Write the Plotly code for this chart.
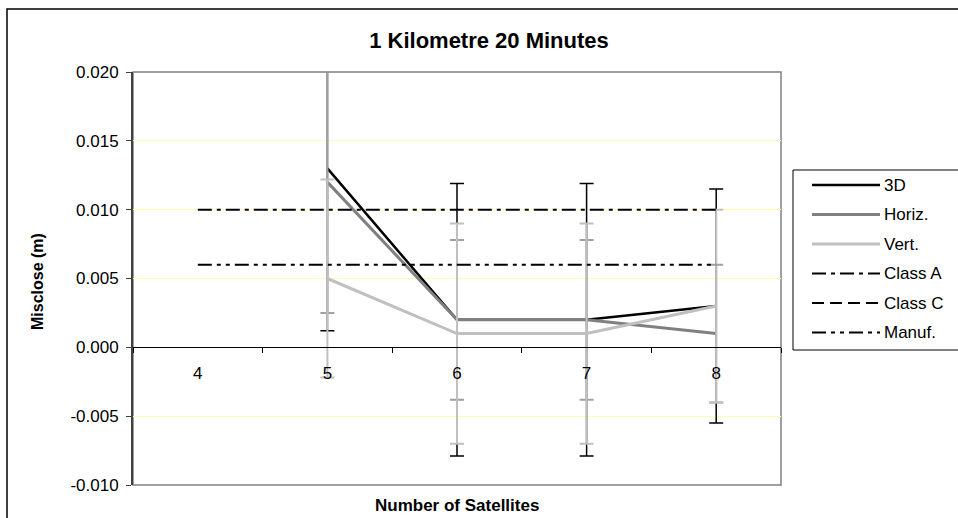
import plotly.graph_objects as go

# ---------------- data ----------------
categories = ["4", "5", "6", "7", "8"]

series_names = ["3D", "Horiz.", "Vert."]
values_3d = [None, 0.013, 0.002, 0.002, 0.003]
values_horiz = [None, 0.012, 0.002, 0.002, 0.001]
values_vert = [None, 0.005, 0.001, 0.001, 0.003]

err_3d = [None, 0.0118, 0.0099, 0.0099, 0.0085]
err_horiz = [None, 0.0095, 0.0058, 0.0058, 0.0050]
err_vert = [None, 0.0072, 0.0080, 0.0080, 0.0070]

limit_names = ["Class A", "Class C", "Manuf."]
class_a = [0.010, 0.010, 0.010, 0.010, 0.010]
class_c = [0.025, 0.025, 0.025, 0.025, 0.025]   # off the visible scale
manuf = [0.006, 0.006, 0.006, 0.006, 0.006]

y_tick_vals = [-0.010, -0.005, 0.000, 0.005, 0.010, 0.015, 0.020]
y_tick_text = ["-0.010", "-0.005", "0.000", "0.005", "0.010", "0.015", "0.020"]

title_text = "1 Kilometre 20 Minutes"
x_title = "Number of Satellites"
y_title = "Misclose (m)"

# ---------------- styling ----------------
FONT = "Liberation Sans, Arial, sans-serif"
W, H = 958, 518
L, R, T, B = 133, 781, 72, 485


def px_x(p):
    return (p - L) / (R - L)


def px_y(p):
    return (B - p) / (B - T)


styles = [
    dict(color="#000000", width=2.5, err_color="#000000", err_th=1.5),
    dict(color="#808080", width=3, err_color="#a0a0a0", err_th=2),
    dict(color="#c0c0c0", width=3, err_color="#c0c0c0", err_th=2),
]
limit_dash = ["14px,5px,4px,5px", "12px,6px", "14px,5px,4px,5px,4px,5px"]

fig = go.Figure()

for name, vals, errs, st in zip(series_names,
                                [values_3d, values_horiz, values_vert],
                                [err_3d, err_horiz, err_vert], styles):
    fig.add_trace(go.Scatter(
        x=categories, y=vals, name=name, mode="lines",
        line=dict(color=st["color"], width=st["width"]),
        error_y=dict(type="data", array=errs, symmetric=True,
                     color=st["err_color"], thickness=st["err_th"], width=7),
        showlegend=False, connectgaps=False,
    ))

for name, vals, dash in zip(limit_names, [class_a, class_c, manuf], limit_dash):
    fig.add_trace(go.Scatter(
        x=categories, y=vals, name=name, mode="lines",
        line=dict(color="#000000", width=2, dash=dash),
        showlegend=False,
    ))

shapes = []
annotations = []

# outer chart border
shapes.append(dict(type="rect", xref="paper", yref="paper",
                   x0=px_x(7), x1=px_x(975), y0=px_y(530), y1=px_y(9),
                   line=dict(color="#000000", width=1.5), layer="below"))
# plot area border
shapes.append(dict(type="rect", xref="paper", yref="paper",
                   x0=0, x1=1, y0=0, y1=1,
                   line=dict(color="#808080", width=1.5), layer="below"))

# manual legend
shapes.append(dict(type="rect", xref="paper", yref="paper",
                   x0=px_x(793), x1=px_x(975), y0=px_y(350), y1=px_y(170),
                   line=dict(color="#000000", width=1), fillcolor="white", layer="above"))
legend_names = series_names + limit_names
legend_lines = [dict(color=s["color"], width=s["width"], dash="solid") for s in styles] + \
               [dict(color="#000000", width=2, dash=d) for d in limit_dash]
for i, (nm, ln) in enumerate(zip(legend_names, legend_lines)):
    yy = 185 + i * 29.5
    shapes.append(dict(type="line", xref="paper", yref="paper",
                       x0=px_x(812), x1=px_x(880), y0=px_y(yy), y1=px_y(yy),
                       line=ln, layer="above"))
    annotations.append(dict(text=nm, xref="paper", yref="paper",
                            x=px_x(882), y=px_y(yy), xanchor="left", yanchor="middle",
                            showarrow=False, font=dict(family=FONT, size=17, color="#000000")))

# axis titles
annotations.append(dict(text="<b>" + x_title + "</b>", xref="paper", yref="paper",
                        x=px_x(457), y=px_y(505), xanchor="center", yanchor="middle",
                        showarrow=False, font=dict(family=FONT, size=17, color="#000000")))
annotations.append(dict(text="<b>" + y_title + "</b>", xref="paper", yref="paper",
                        x=px_x(37), y=px_y(282), xanchor="center", yanchor="middle",
                        textangle=-90, showarrow=False,
                        font=dict(family=FONT, size=16, color="#000000")))

fig.update_layout(
    width=W, height=H,
    margin=dict(l=L, r=W - R, t=T, b=H - B, pad=0),
    paper_bgcolor="white", plot_bgcolor="white",
    title=dict(text="<b>" + title_text + "</b>", x=px_x(489), xref="paper",
               y=1 - 40 / H, yref="container", xanchor="center", yanchor="middle",
               font=dict(family=FONT, size=22, color="#000000")),
    xaxis=dict(type="category", categoryorder="array", categoryarray=categories,
               range=[-0.5, 4.5], anchor="free", position=1 / 3,
               showline=True, linecolor="#000000", linewidth=1,
               ticks="outside", tickson="boundaries", ticklen=5, tickcolor="#000000",
               ticklabelstandoff=10,
               showgrid=False, zeroline=False,
               tickfont=dict(family=FONT, size=17, color="#000000")),
    yaxis=dict(range=[-0.010, 0.020], tickvals=y_tick_vals, ticktext=y_tick_text,
               showline=True, linecolor="#404040", linewidth=2,
               ticks="outside", ticklen=5, tickcolor="#404040",
               ticklabelstandoff=4,
               showgrid=True, gridcolor="#ffffb0", gridwidth=1, zeroline=False,
               tickfont=dict(family=FONT, size=17, color="#000000")),
    shapes=shapes,
    annotations=annotations,
    showlegend=False,
)

fig.write_html("out.html")
